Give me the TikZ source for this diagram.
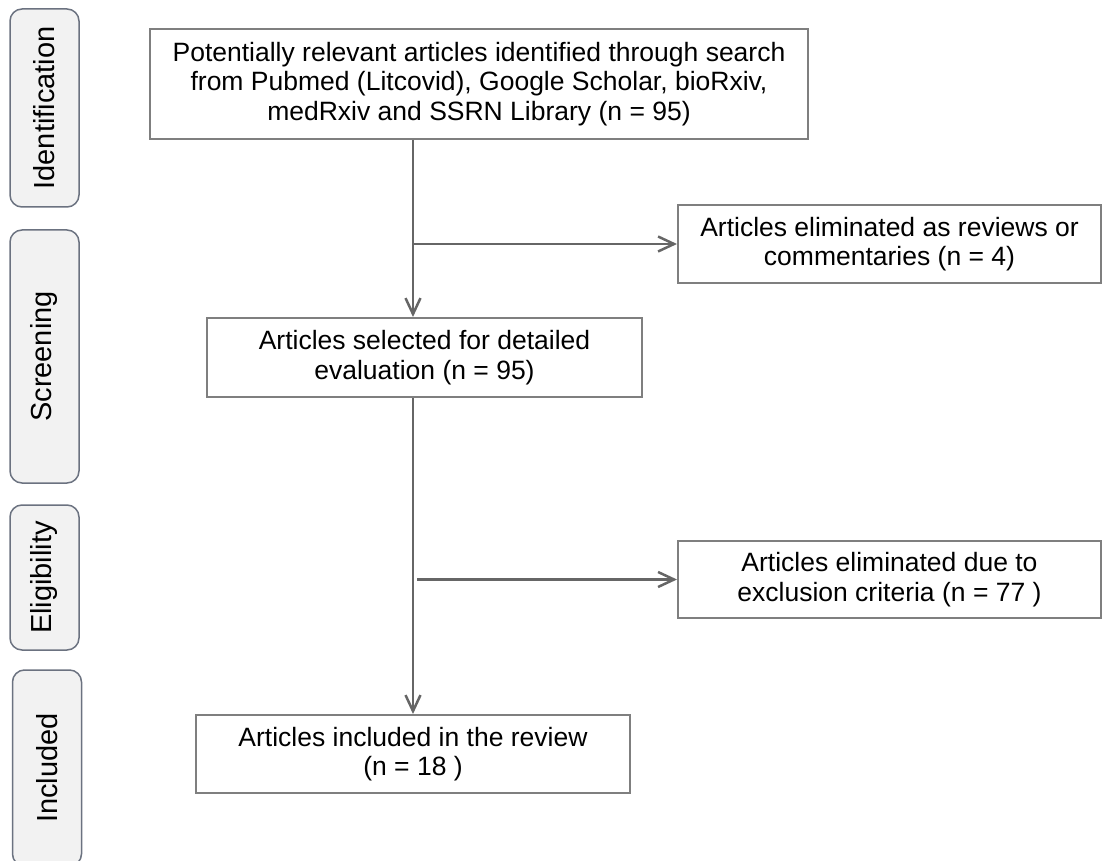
\documentclass[tikz,border=0pt]{standalone}
\usepackage{fontspec}
\setmainfont{Liberation Sans}
\usetikzlibrary{arrows.meta}
\definecolor{boxgrey}{HTML}{7F7F7F}
\definecolor{linegrey}{HTML}{666666}
\definecolor{phaseedge}{HTML}{6B7280}
\definecolor{phasefill}{HTML}{F2F2F2}

\begin{document}
\begin{tikzpicture}[x=1pt,y=-1pt,
	box/.style={draw=boxgrey,line width=2pt,align=center,inner sep=0pt,
		font=\fontsize{26.5}{29.5}\selectfont},
	phase/.style={draw=phaseedge,fill=phasefill,line width=1.5pt,rounded corners=12pt,
		rotate=90,minimum height=69pt,inner sep=0pt,font=\fontsize{29}{34}\selectfont},
	link/.style={draw=linegrey,line width=2.5pt,-{Straight Barb[length=16pt,width=15pt]}}]

	\useasboundingbox (0,0) rectangle (1104,861);

	% phases
	\node[phase,minimum width=198pt] (ident) at (44.5,108) {Identification};
	\node[phase,minimum width=253pt] (screen) at (44.5,356.5) {Screening};
	\node[phase,minimum width=145pt] (elig) at (44.5,577.5) {Eligibility};
	\node[phase,minimum width=196pt] (incl) at (47,768) {Included};

	% boxes
	\node[box,minimum width=658pt,minimum height=110pt] (found) at (479,84)
		{Potentially relevant articles identified through search\\
		 from Pubmed (Litcovid), Google Scholar, bioRxiv,\\
		 medRxiv and SSRN Library (n = 95)};
	\node[box,minimum width=423pt,minimum height=78pt] (reviews) at (889.5,244)
		{Articles eliminated as reviews or\\ commentaries (n = 4)};
	\node[box,minimum width=435pt,minimum height=79pt] (selected) at (424.5,357.5)
		{Articles selected for detailed\\ evaluation (n = 95)};
	\node[box,minimum width=423pt,minimum height=77pt] (excluded) at (889.5,579.5)
		{Articles eliminated due to\\ exclusion criteria (n = 77 )};
	\node[box,minimum width=434pt,minimum height=78pt] (review) at (413,754)
		{Articles included in the review\\ (n = 18 )};

	% links
	\draw[link] (found.south -| review) -- (selected.north -| review);
	\draw[link] (selected.south -| review) -- (review.north);
	\draw[link] (review |- reviews) -- (reviews.west);
	\draw[link] ([xshift=4pt]review |- excluded) -- (excluded.west);
\end{tikzpicture}
\end{document}
